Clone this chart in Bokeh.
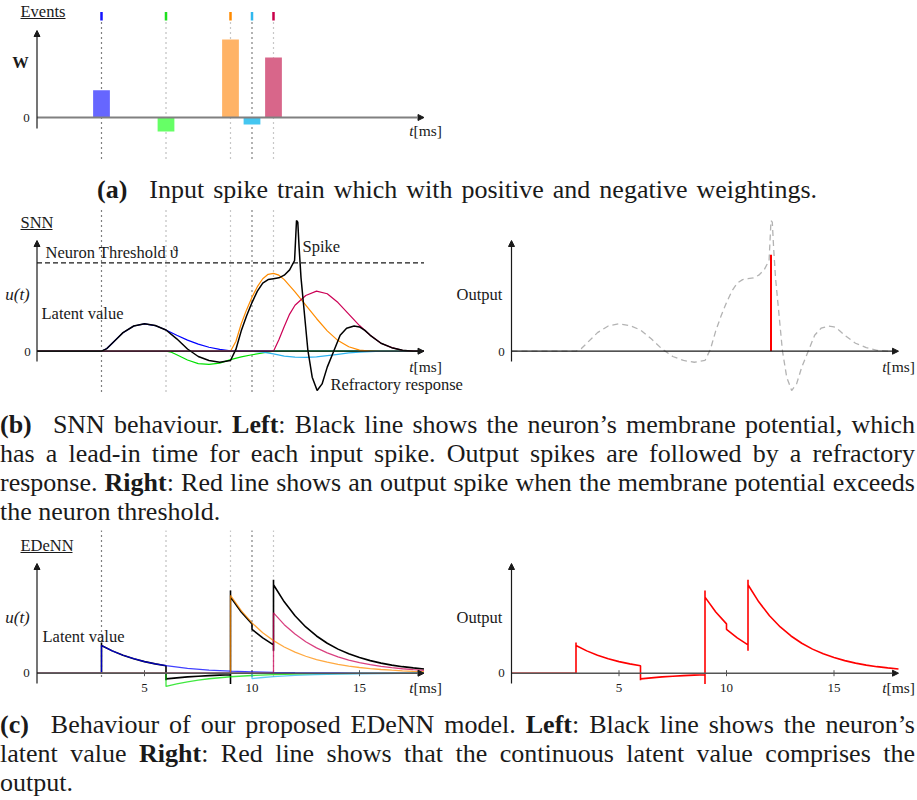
from bokeh.plotting import figure
from bokeh.models import Range1d, Arrow, NormalHead, Div
from bokeh.layouts import column
from bokeh.core.properties import value
from bokeh.embed import file_html
from bokeh.resources import INLINE

FONT = "Liberation Serif"
TXT = "#1a1a1a"

# ---------------- data ----------------
# (a) input events
event_times = [3, 6, 9, 10, 11]
event_weights = [0.35, -0.18, 1.0, -0.09, 0.77]
event_colors = ["#1414ff", "#1ee01e", "#ff8a00", "#30b8ee", "#c8004a"]
bar_colors = ["#6666ff", "#66ff66", "#ffb366", "#44c6f0", "#d8668a"]
guide_colors = ["#000000", "#808080", "#909090", "#000000", "#909090"]
series_colors = ["#0000ff", "#00e000", "#ff8c00", "#2eb4f0", "#cc0055"]

# (b) SNN potentials
snn_blue_t = [0, 3, 3.25, 3.5, 3.75, 4, 4.5, 5, 5.5, 6, 6.5, 7, 7.5, 8, 8.5, 9, 9.5, 18]
snn_blue = [0, 0, 0.03, 0.09, 0.15, 0.21, 0.285, 0.31, 0.29, 0.24, 0.18, 0.125, 0.08, 0.045, 0.02, 0.005, 0, 0]
snn_green_t = [0, 6, 6.25, 6.5, 7, 7.5, 8, 8.5, 9, 9.5, 10, 10.5, 11, 18]
snn_green = [0, 0, -0.012, -0.04, -0.10, -0.14, -0.15, -0.135, -0.095, -0.065, -0.04, -0.02, 0, 0]
snn_orange_t = [0, 9, 9.25, 9.5, 9.75, 10, 10.25, 10.5, 10.75, 11, 11.25, 11.5, 12, 12.5, 13, 13.5, 14, 14.5, 15, 15.5, 18]
snn_orange = [0, 0, 0.11, 0.31, 0.47, 0.61, 0.73, 0.82, 0.87, 0.88, 0.86, 0.81, 0.67, 0.52, 0.37, 0.23, 0.12, 0.05, 0.012, 0, 0]
snn_cyan_t = [0, 10, 10.5, 11, 11.5, 12, 12.5, 13, 13.5, 14, 14.5, 15, 15.5, 16, 18]
snn_cyan = [0, 0, -0.01, -0.03, -0.055, -0.068, -0.07, -0.065, -0.05, -0.035, -0.02, -0.01, -0.004, 0, 0]
snn_magenta_t = [0, 11, 11.25, 11.5, 11.75, 12, 12.5, 13, 13.5, 14, 14.5, 15, 15.5, 16, 16.5, 17, 17.5, 18]
snn_magenta = [0, 0, 0.13, 0.28, 0.42, 0.52, 0.63, 0.68, 0.65, 0.55, 0.42, 0.29, 0.18, 0.09, 0.04, 0.01, 0, 0]
snn_black_t = [0, 3, 3.25, 3.5, 3.75, 4, 4.5, 5, 5.5, 6, 6.5, 7, 7.5, 8, 8.5, 9, 9.25, 9.5, 9.75, 10,
               10.25, 10.5, 10.75, 11, 11.25, 11.5, 11.75, 11.98, 12.07, 12.13, 12.19, 12.28, 12.41, 12.6,
               12.8, 13.03, 13.26, 13.5, 13.8, 14.1, 14.4, 14.75, 15.0, 15.25, 15.5, 16, 16.5, 17, 17.5, 18]
snn_black = [0, 0, 0.03, 0.09, 0.15, 0.21, 0.285, 0.31, 0.29, 0.24, 0.14, 0.025, -0.06, -0.105, -0.125, -0.105,
             0.02, 0.23, 0.40, 0.55, 0.68, 0.77, 0.81, 0.82, 0.83, 0.86, 0.92, 1.026, 1.478, 1.46, 1.177, 0.83,
             0.497, 0.008, -0.294, -0.445, -0.37, -0.18, 0.0, 0.18, 0.26, 0.285, 0.275, 0.235, 0.18, 0.09, 0.04,
             0.01, 0, 0]
threshold = 1.0
out_spike_t = [12.07]
out_spike_v = [1.09]

# (c) EDeNN latent values
ed_blue_t = [0, 3, 3, 3.5, 4, 4.5, 5, 5.5, 6, 7, 8, 9, 10, 11, 12, 13, 14, 15, 16, 17, 18]
ed_blue = [0, 0, 0.335, 0.27, 0.217, 0.175, 0.14, 0.113, 0.091, 0.059, 0.038, 0.024, 0.016, 0.010, 0.0066,
           0.0043, 0.0028, 0.0018, 0.0011, 0.0007, 0.0005]
ed_green_t = [0, 6, 6, 6.5, 7, 7.5, 8, 9, 10, 11, 12, 13, 14, 15, 16, 17, 18]
ed_green = [0, 0, -0.16, -0.13, -0.104, -0.083, -0.067, -0.043, -0.028, -0.018, -0.012, -0.0075, -0.005,
            -0.003, -0.002, -0.0013, -0.0008]
ed_orange_t = [0, 9, 9, 9.5, 10, 10.5, 11, 11.5, 12, 12.5, 13, 13.5, 14, 14.5, 15, 15.5, 16, 16.5, 17, 17.5, 18]
ed_orange = [0, 0, 0.94, 0.756, 0.608, 0.489, 0.394, 0.317, 0.255, 0.205, 0.165, 0.133, 0.107, 0.086, 0.069,
             0.056, 0.045, 0.036, 0.029, 0.023, 0.019]
ed_cyan_t = [0, 10, 10, 10.5, 11, 12, 13, 14, 15, 16, 17, 18]
ed_cyan = [0, 0, -0.065, -0.052, -0.042, -0.027, -0.018, -0.011, -0.0075, -0.005, -0.003, -0.002]
ed_magenta_t = [0, 11, 11, 11.5, 12, 12.5, 13, 13.5, 14, 14.5, 15, 15.5, 16, 16.5, 17, 17.5, 18]
ed_magenta = [0, 0, 0.73, 0.587, 0.473, 0.380, 0.306, 0.246, 0.198, 0.159, 0.128, 0.103, 0.083, 0.067,
              0.054, 0.043, 0.035]
ed_black_t = [0, 3, 3, 3, 3.5, 4, 4.5, 5, 5.5, 6, 6, 6, 6.5, 7, 7.5, 8, 8.5, 9, 9, 9, 9, 9.5, 10, 10, 10.5,
              11, 11, 11, 11, 11.5, 12, 12.5, 13, 13.5, 14, 14.5, 15, 15.5, 16, 16.5, 17, 17.5, 18]
ed_black = [0, 0, 0.37, 0.335, 0.27, 0.217, 0.175, 0.14, 0.113, 0.091, -0.085, -0.069, -0.056, -0.045,
            -0.036, -0.029, -0.023, -0.019, -0.13, 1.0, 0.92, 0.74, 0.596, 0.53, 0.427, 0.343, 0.27, 1.13,
            1.07, 0.863, 0.694, 0.559, 0.45, 0.362, 0.291, 0.234, 0.189, 0.152, 0.122, 0.098, 0.079, 0.064,
            0.051]
tick_values = [5, 10, 15]
tick_labels = ["5", "10", "15"]
t_end = 18

W = 917
MS = 21.5          # pixels per ms
T0_LEFT = 36.5     # page x of t = 0, left panels
T0_RIGHT = 511     # page x of t = 0, right panels


# ---------------- helpers ----------------
def make_row(top, height, zero_page, unit_px):
    z0 = zero_page - top
    p = figure(width=W, height=height,
               x_range=Range1d(-T0_LEFT / MS, (W - T0_LEFT) / MS),
               y_range=Range1d(-(height - z0) / unit_px, z0 / unit_px),
               toolbar_location=None, output_backend="svg", min_border=0,
               x_axis_type=None, y_axis_type=None, margin=0,
               background_fill_color="white", border_fill_color="white")
    p.extra_x_ranges = {"r": Range1d(-T0_RIGHT / MS, (W - T0_RIGHT) / MS)}
    p.outline_line_color = None
    fy = lambda yp: (zero_page - yp) / unit_px
    return p, fy


def fxl(xp):
    return (xp - T0_LEFT) / MS


def fxr(xp):
    return (xp - T0_RIGHT) / MS


def label(p, x, y, s, size="16.5px", align="left", style="normal", rn="default"):
    p.text(x=[x], y=[y], text=[s], text_font=value(FONT), text_font_size=value(size),
           text_align=align, text_baseline="middle", text_font_style=style, text_color=TXT,
           x_range_name=rn)


def tlabel(p, fx, fy, xr, yc, rn="default"):
    label(p, fx(xr), fy(yc), "t", size="15.5px", align="right", style="italic", rn=rn)
    label(p, fx(xr), fy(yc), "[ms]", size="15.5px", align="left", rn=rn)


def axes(p, y_bot, y_top, xcolor="#1a1a1a", xwidth=1.2, rn="default"):
    p.add_layout(Arrow(x_start=0, y_start=0, x_end=t_end, y_end=0, line_color=xcolor, line_width=xwidth,
                       x_range_name=rn,
                       end=NormalHead(size=6, fill_color=TXT, line_color=TXT, line_width=1)))
    p.add_layout(Arrow(x_start=0, y_start=y_bot, x_end=0, y_end=y_top, line_color=TXT, line_width=1.2,
                       x_range_name=rn,
                       end=NormalHead(size=6, fill_color=TXT, line_color=TXT, line_width=1)))


def guides(p, top, bot):
    n = len(event_times)
    p.segment(x0=event_times, y0=[top] * n, x1=event_times, y1=[bot] * n,
              line_color=guide_colors, line_dash="1 4", line_width=1.2)


def underline_title(p, fy, x0, x1, yc, yl, s):
    label(p, fxl(x0), fy(yc), s)
    p.segment(x0=[fxl(x0)], y0=[fy(yl)], x1=[fxl(x1)], y1=[fy(yl)], line_color=TXT, line_width=1)


def ticks(p, fy, rn):
    p.segment(x0=tick_values, y0=[fy(675.7)] * 3, x1=tick_values, y1=[fy(669.7)] * 3,
              line_color="#555555", line_width=1, x_range_name=rn)
    p.text(x=tick_values, y=[fy(687)] * 3, text=tick_labels, text_font=value(FONT),
           text_font_size=value("13px"), text_align="center", text_baseline="middle",
           text_color=TXT, x_range_name=rn)


# ---------------- (a) events ----------------
pa, ay = make_row(0, 172, 117, 78)
guides(pa, ay(22), ay(158))
pa.segment(x0=event_times, y0=[ay(11.5)] * 5, x1=event_times, y1=[ay(20)] * 5,
           line_color=event_colors, line_width=2.5)
pa.vbar(x=event_times, top=event_weights, bottom=0, width=0.78, fill_color=bar_colors, line_color=None)
axes(pa, ay(128), ay(30), xcolor="#808080", xwidth=2)
underline_title(pa, ay, 20, 65, 11, 18, "Events")
label(pa, fxl(20), ay(62), "W", align="center", style="bold")
label(pa, fxl(26), ay(117), "0", size="13px", align="center")
tlabel(pa, fxl, ay, 413, 130)

cap_style = "font-family:'Liberation Serif',serif; font-size:26px; line-height:29px; color:#1a1a1a;"
cap_a = Div(text=f'<div style="{cap_style} padding-left:97px; padding-top:3px; white-space:nowrap; word-spacing:2.5px;">'
                 '<b>(a)</b><span style="margin-left:22px"></span>'
                 'Input spike train which with positive and negative weightings.</div>',
            width=W, height=35, margin=0)

# ---------------- (b) SNN ----------------
pb, by = make_row(207, 193, 350.7, 88.4)
guides(pb, by(200), by(392))
pb.line(x=[0, t_end], y=[threshold, threshold], line_color=TXT, line_dash="5 3", line_width=1.2)
axes(pb, by(361), by(240))
for tt, vv, cc in [(snn_blue_t, snn_blue, series_colors[0]), (snn_green_t, snn_green, series_colors[1]),
                   (snn_orange_t, snn_orange, series_colors[2]), (snn_cyan_t, snn_cyan, series_colors[3]),
                   (snn_magenta_t, snn_magenta, series_colors[4])]:
    pb.line(x=tt, y=vv, line_color=cc, line_width=1.2)
pb.line(x=snn_black_t, y=snn_black, line_color="black", line_width=1.5)
underline_title(pb, by, 20, 52, 222, 229, "SNN")
label(pb, fxl(45), by(251.5), "Neuron Threshold \u03d1")
label(pb, fxl(302), by(245.5), "Spike")
label(pb, fxl(17), by(294), "u(t)", size="17px", align="center", style="italic")
label(pb, fxl(41), by(313), "Latent value")
label(pb, fxl(27), by(351), "0", size="13px", align="center")
tlabel(pb, fxl, by, 413, 366)
label(pb, fxl(330), by(384), "Refractory response")
# right: output
axes(pb, by(361), by(240), rn="r")
pb.line(x=snn_black_t, y=snn_black, line_color="#b3b3b3", line_dash="6 4", line_width=1.3, x_range_name="r")
pb.segment(x0=out_spike_t, y0=[0], x1=out_spike_t, y1=out_spike_v, line_color="#ff0000", line_width=2,
           x_range_name="r")
label(pb, fxr(479), by(294), "Output", align="center", rn="r")
label(pb, fxr(501), by(351), "0", size="13px", align="center", rn="r")
tlabel(pb, fxr, by, 886, 366, rn="r")

cap_line = "width:915px; text-align:justify; text-align-last:justify;"
cap_b = Div(text=f'<div style="{cap_style} padding-top:10px;">'
                 f'<div style="{cap_line}"><b>(b)</b><span style="margin-left:12px"></span> SNN behaviour. '
                 '<b>Left</b>: Black line shows the neuron\u2019s membrane potential, which</div>'
                 f'<div style="{cap_line}">has a lead-in time for each input spike. Output spikes are followed by a refractory</div>'
                 f'<div style="{cap_line}">response. <b>Right</b>: Red line shows an output spike when the membrane potential exceeds</div>'
                 '<div>the neuron threshold.</div></div>',
            width=W, height=130, margin=0)

# ---------------- (c) EDeNN ----------------
pc, cy = make_row(530, 170, 672.7, 82.7)
guides(pc, cy(525), cy(680))
axes(pc, cy(683), cy(563), xcolor="#555555", xwidth=1.5)
ticks(pc, cy, "default")
pc.line(x=ed_black_t, y=ed_black, line_color="black", line_width=1.6)
for tt, vv, cc in [(ed_blue_t, ed_blue, series_colors[0]), (ed_green_t, ed_green, series_colors[1]),
                   (ed_orange_t, ed_orange, series_colors[2]), (ed_cyan_t, ed_cyan, series_colors[3]),
                   (ed_magenta_t, ed_magenta, series_colors[4])]:
    pc.line(x=tt, y=vv, line_color=cc, line_width=1.3, line_alpha=0.75)
underline_title(pc, cy, 20, 72, 545, 552, "EDeNN")
label(pc, fxl(17), cy(617), "u(t)", size="17px", align="center", style="italic")
label(pc, fxl(42), cy(636), "Latent value")
label(pc, fxl(26), cy(672.7), "0", size="13px", align="center")
tlabel(pc, fxl, cy, 413, 687)
# right: output
axes(pc, cy(683), cy(563), xcolor="#555555", xwidth=1.5, rn="r")
ticks(pc, cy, "r")
pc.line(x=ed_black_t, y=ed_black, line_color="#ff0000", line_width=1.6, x_range_name="r")
label(pc, fxr(479), cy(617), "Output", align="center", rn="r")
label(pc, fxr(501), cy(672.7), "0", size="13px", align="center", rn="r")
tlabel(pc, fxr, cy, 886, 687, rn="r")

cap_c = Div(text=f'<div style="{cap_style} padding-top:10px;">'
                 f'<div style="{cap_line}"><b>(c)</b><span style="margin-left:12px"></span> Behaviour of our proposed EDeNN model. '
                 '<b>Left</b>: Black line shows the neuron\u2019s</div>'
                 f'<div style="{cap_line}">latent value <b>Right</b>: Red line shows that the continuous latent value comprises the</div>'
                 '<div>output.</div></div>',
            width=W, height=100, margin=0)

layout = column(pa, cap_a, pb, cap_b, pc, cap_c)

open("out.html", "w").write(file_html(layout, INLINE))
